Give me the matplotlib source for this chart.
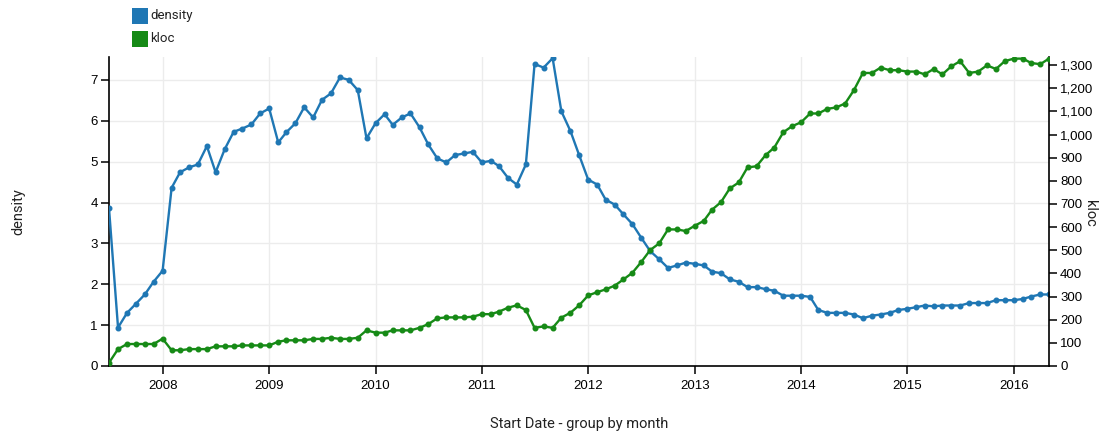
import matplotlib
matplotlib.use('Agg')
import matplotlib.pyplot as plt
import matplotlib.dates as mdates
from matplotlib.patches import Rectangle
from matplotlib.ticker import FuncFormatter
import pandas as pd

# monthly series, Jul 2007 .. May 2016
first_month = '2007-07-01'
last_month = '2016-05-01'

density = [3.86, 0.94, 1.30, 1.52, 1.75, 2.06,
           2.33, 4.36, 4.74, 4.86, 4.93, 5.38, 4.74, 5.30, 5.73, 5.81, 5.91, 6.18,
           6.30, 5.47, 5.72, 5.94, 6.33, 6.08, 6.51, 6.67, 7.06, 7.00, 6.75, 5.57,
           5.94, 6.16, 5.90, 6.08, 6.18, 5.84, 5.42, 5.08, 4.98, 5.16, 5.20, 5.24,
           4.98, 5.02, 4.89, 4.60, 4.44, 4.93, 7.39, 7.30, 7.53, 6.23, 5.75, 5.16,
           4.56, 4.44, 4.07, 3.95, 3.71, 3.47, 3.14, 2.81, 2.61, 2.40, 2.46, 2.53,
           2.50, 2.46, 2.31, 2.27, 2.12, 2.06, 1.93, 1.93, 1.88, 1.84, 1.72, 1.72,
           1.72, 1.69, 1.37, 1.30, 1.30, 1.30, 1.26, 1.17, 1.23, 1.26, 1.30, 1.37,
           1.40, 1.44, 1.48, 1.46, 1.48, 1.48, 1.48, 1.54, 1.54, 1.54, 1.61, 1.61,
           1.61, 1.64, 1.70, 1.75, 1.75]

kloc = [14, 73, 95, 95, 95, 95,
        118, 68, 68, 73, 73, 73, 85, 85, 85, 89, 89, 89,
        89, 105, 111, 111, 111, 117, 117, 122, 117, 117, 122, 154,
        144, 144, 154, 154, 154, 165, 181, 206, 210, 210, 210, 213,
        224, 224, 235, 252, 262, 242, 165, 171, 165, 209, 230, 262,
        305, 319, 331, 347, 374, 403, 449, 501, 530, 590, 590, 583,
        606, 627, 675, 708, 767, 793, 858, 863, 911, 944, 1010, 1036,
        1053, 1091, 1091, 1111, 1117, 1134, 1191, 1266, 1266, 1289, 1278, 1278,
        1272, 1272, 1260, 1283, 1260, 1295, 1317, 1266, 1272, 1299, 1283, 1317,
        1328, 1328, 1309, 1304, 1328]

years = list(range(2008, 2017))
density_ticks = [0, 1, 2, 3, 4, 5, 6, 7]
kloc_ticks = list(range(0, 1400, 100))

months = pd.date_range(first_month, last_month, freq='MS')

blue = '#1f77b4'
green = '#168a16'
tick_font = 'Liberation Sans'
label_font = 'Roboto'

W, H = 1103, 436
fig = plt.figure(figsize=(W / 100, H / 100), dpi=100)
ax = fig.add_axes([109 / W, 1 - 366 / H, (1049 - 109) / W, (366 - 57) / H])
ax2 = ax.twinx()

ax.plot(months, density, color=blue, lw=1.7, marker='o', ms=3.3, zorder=3)
ax2.plot(months, kloc, color=green, lw=1.7, marker='o', ms=3.3, zorder=3)

ax.set_xlim(months[0], months[-1])
ax.set_ylim(0, 7.56)
ax2.set_ylim(0, 1335)

ax.set_xticks([pd.Timestamp(f'{y}-01-01') for y in years])
ax.xaxis.set_major_formatter(mdates.DateFormatter('%Y'))
ax.set_yticks(density_ticks)
ax2.set_yticks(kloc_ticks)
ax2.yaxis.set_major_formatter(FuncFormatter(lambda v, p: f'{int(v):,}'))

ax.grid(True, color='#ececec', lw=1)
ax.set_axisbelow(True)

for a in (ax, ax2):
    a.spines['top'].set_visible(False)
    for s in a.spines.values():
        s.set_color('black')
        s.set_linewidth(1.2)
    a.tick_params(length=6, width=1.1, pad=2, labelsize=9.5, colors='black')
    for lab in a.get_xticklabels() + a.get_yticklabels():
        lab.set_fontfamily(tick_font)
ax.spines['right'].set_visible(False)
ax2.spines['left'].set_visible(False)
ax2.spines['bottom'].set_visible(False)
ax.tick_params(axis='x', pad=4)

fig.text(18 / W, 1 - 212 / H, 'density', rotation=90, ha='center', va='center',
         fontsize=10.5, family=label_font, color='#222222')
fig.text(1090 / W, 1 - 213 / H, 'kloc', rotation=270, ha='center', va='center',
         fontsize=10.5, family=label_font, color='#222222')
fig.text(579 / W, 1 - 424 / H, 'Start Date - group by month', ha='center', va='center',
         fontsize=10.5, family=label_font, color='#222222')

# legend swatches
for i, (name, col) in enumerate([('density', blue), ('kloc', green)]):
    top = 8 + i * 22.7
    fig.add_artist(Rectangle((131.5 / W, 1 - (top + 16) / H), 16 / W, 16 / H,
                             transform=fig.transFigure, color=col, lw=0))
    fig.text(150.5 / W, 1 - (top + 8) / H, name, ha='left', va='center',
             fontsize=9.5, family=label_font, color='#222222')

fig.savefig('out.png', dpi=100)
